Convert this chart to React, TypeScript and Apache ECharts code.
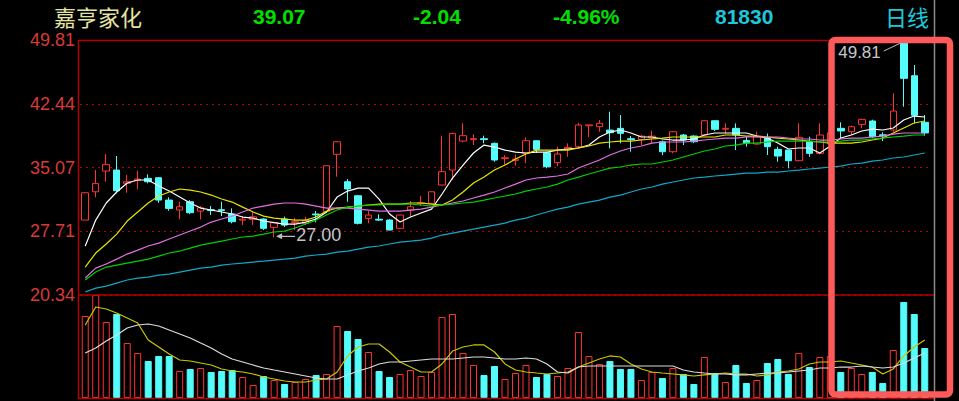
import { useEffect, useRef } from "react";
import * as echarts from "echarts";

const stockName = "嘉亨家化";
const lastClose = "39.07";
const changeText = "-2.04";
const changePctText = "-4.96%";
const lastVolumeText = "81830";
const periodLabel = "日线";

const priceMin = 20.34;
const priceMax = 49.81;
const priceTicks = ["20.34", "27.71", "35.07", "42.44", "49.81"];

const openPrices = [
  29.0, 32.27, 34.67, 34.78, 33.25, 33.59, 33.82, 33.89, 31.31, 30.16,
  31.12, 30.04, 30.2, 30.2, 29.7, 29.0, 29.08, 29.12, 28.16, 29.12,
  28.7, 28.62, 29.7, 29.96, 36.6, 33.43, 31.81, 29.2, 29.1, 29.0,
  28.04, 30.16, 30.9, 30.93, 33.05, 34.78, 38.13, 38.3, 38.4, 37.87,
  36.1, 35.9, 36.71, 38.17, 36.78, 35.63, 37.2, 37.48, 39.9, 39.79,
  39.4, 39.6, 38.4, 38.3, 38.5, 38.05, 36.9, 38.83, 38.71, 38.83,
  40.48, 39.5, 39.6, 38.2, 37.79, 38.45, 37.17, 37.09, 35.86, 38.05,
  36.71, 37.8, 39.6, 39.21, 40.06, 40.45, 38.85, 39.41, 49.61, 45.68,
  40.3,
];
const closePrices = [
  32.16, 33.24, 35.44, 32.39, 33.43, 33.74, 33.43, 31.31, 30.35, 30.54,
  29.85, 30.42, 30.1, 30.1, 28.81, 29.1, 29.38, 28.04, 28.69, 28.42,
  28.8, 28.97, 29.6, 35.28, 38.05, 32.59, 28.62, 29.58, 29.0, 27.85,
  29.58, 30.54, 31.0, 32.27, 34.59, 39.02, 38.75, 38.4, 38.3, 35.94,
  36.2, 36.05, 38.17, 37.17, 35.16, 36.63, 37.4, 39.98, 40.0, 40.18,
  39.1, 39.02, 38.3, 38.7, 38.7, 36.9, 39.21, 38.25, 38.05, 40.48,
  39.49, 39.6, 38.83, 37.9, 38.63, 37.48, 36.4, 35.86, 38.56, 36.71,
  38.83, 39.1, 39.3, 39.79, 40.64, 38.63, 38.75, 41.6, 45.38, 41.11,
  39.07,
];
const lowPrices = [
  29.0, 31.63, 33.43, 32.09, 32.16, 32.55, 33.25, 31.0, 30.08, 29.08,
  29.7, 29.08, 29.58, 29.46, 28.62, 28.42, 28.42, 27.85, 27.0, 28.2,
  27.85, 28.42, 28.74, 29.9, 34.01, 31.12, 28.5, 28.62, 28.89, 27.8,
  28.0, 29.38, 30.65, 30.9, 33.0, 33.63, 37.98, 37.67, 37.87, 35.74,
  35.4, 35.3, 35.56, 36.75, 34.98, 35.24, 36.32, 37.4, 38.56, 39.21,
  37.29, 37.87, 36.9, 37.67, 37.87, 36.52, 36.71, 37.67, 37.9, 38.7,
  39.3, 39.02, 37.09, 37.48, 37.7, 36.52, 35.74, 34.98, 35.8, 36.32,
  36.6, 37.5, 38.45, 38.83, 39.6, 38.5, 38.13, 39.2, 42.1, 40.18,
  38.75,
];
const highPrices = [
  32.2, 34.78, 36.63, 36.4, 34.2, 34.7, 34.28, 33.95, 31.63, 31.12,
  31.31, 30.62, 30.62, 31.12, 30.35, 29.46, 29.97, 29.2, 28.8, 29.4,
  29.23, 29.38, 30.04, 35.3, 38.1, 33.74, 31.9, 30.04, 29.66, 29.1,
  29.6, 31.2, 31.81, 32.3, 38.75, 39.1, 40.18, 38.91, 38.75, 37.95,
  36.5, 36.6, 38.56, 38.2, 36.9, 37.48, 37.87, 40.25, 40.0, 40.56,
  41.52, 41.14, 38.71, 38.83, 39.33, 38.2, 39.3, 38.94, 38.8, 40.5,
  40.5, 40.18, 40.18, 38.63, 39.21, 39.0, 37.48, 37.1, 40.18, 38.63,
  40.18, 39.5, 40.3, 39.9, 40.7, 40.6, 39.14, 43.65, 49.81, 46.92,
  41.14,
];
const volumes = [
  134200, 168600, 124400, 137500, 90000, 73700, 60600, 68800, 68800, 44200,
  47500, 49100, 42600, 44200, 45800, 34400, 21300, 36000, 29500, 22900,
  26200, 31100, 37700, 39300, 117900, 109700, 96600, 75300, 44200, 34400,
  39300, 45800, 36000, 42600, 132600, 137500, 73700, 54000, 37700, 52400,
  31100, 40900, 54000, 34400, 39300, 36000, 49100, 108000, 68800, 55700,
  60600, 47500, 47500, 29500, 42600, 32700, 49100, 39300, 22900, 67100,
  40900, 26200, 54000, 24600, 29500, 57300, 63800, 39300, 73700, 50700,
  67100, 68800, 42600, 49100, 39300, 42600, 24600, 78600, 157200, 137500,
  81830,
];
const ma5 = [
  26.0, 29.0, 30.97, 32.24, 33.28, 33.63, 33.63, 32.93, 32.35, 31.66,
  30.97, 30.39, 30.16, 29.93, 29.7, 29.35, 29.23, 28.89, 28.71, 28.54,
  28.54, 28.77, 29.12, 29.93, 31.66, 32.35, 32.7, 32.7, 31.43, 29.7,
  28.77, 29.35, 29.81, 30.27, 32.01, 33.86, 35.36, 36.75, 37.67, 37.44,
  37.09, 36.86, 36.75, 36.86, 36.86, 37.09, 37.21, 37.33, 37.67, 38.6,
  39.17, 39.41, 39.06, 38.6, 38.6, 38.37, 38.25, 38.25, 38.37, 38.83,
  39.06, 39.06, 39.06, 39.06, 38.71, 38.48, 37.9, 37.21, 37.33, 37.33,
  36.75, 37.56, 38.48, 38.83, 39.29, 39.52, 39.41, 39.64, 40.56, 41.02,
  40.91,
];
const ma10 = [
  23.57, 25.19, 26.23, 27.38, 28.89, 29.93, 30.97, 31.78, 32.24, 32.59,
  32.47, 32.24, 31.89, 31.43, 31.08, 30.5, 29.93, 29.46, 29.23, 29.12,
  29.0, 29.0, 29.35, 30.04, 30.39, 30.5, 30.62, 30.74, 30.85, 30.85,
  30.85, 30.97, 30.97, 30.85, 30.74, 31.31, 32.24, 33.28, 33.97, 34.78,
  35.36, 36.05, 36.63, 37.09, 37.09, 37.09, 37.09, 37.33, 37.56, 37.9,
  38.02, 38.13, 38.13, 38.25, 38.37, 38.48, 38.6, 38.6, 38.6, 38.6,
  38.6, 38.83, 38.83, 38.71, 38.71, 38.6, 38.48, 38.37, 38.25, 38.13,
  38.02, 37.9, 37.9, 37.9, 38.02, 38.25, 38.48, 39.06, 39.64, 40.22,
  40.45,
];
const ma20 = [
  22.3, 23.45, 23.92, 24.49, 25.07, 25.53, 26.0, 26.34, 26.81, 27.27,
  27.73, 28.19, 28.77, 29.12, 29.46, 29.93, 30.39, 30.62, 30.85, 30.97,
  30.97, 30.85, 30.62, 30.39, 30.39, 30.39, 30.27, 30.16, 30.04, 30.04,
  30.04, 30.16, 30.27, 30.5, 30.74, 30.97, 31.2, 31.55, 31.89, 32.24,
  32.7, 33.16, 33.63, 33.86, 33.97, 34.09, 34.32, 35.01, 35.48, 35.94,
  36.52, 36.98, 37.33, 37.56, 37.9, 38.02, 38.02, 38.02, 38.13, 38.25,
  38.37, 38.48, 38.48, 38.6, 38.6, 38.6, 38.6, 38.48, 38.37, 38.37,
  38.25, 38.25, 38.37, 38.48, 38.48, 38.6, 38.71, 38.94, 39.06, 39.06,
  39.06,
];
const ma30 = [
  22.07, 22.99, 23.57, 23.8, 24.03, 24.26, 24.49, 24.84, 25.19, 25.42,
  25.76, 26.11, 26.34, 26.57, 26.81, 27.04, 27.15, 27.38, 27.62, 27.73,
  28.08, 28.54, 29.0, 29.58, 30.16, 30.5, 30.62, 30.74, 30.74, 30.85,
  30.85, 30.85, 30.74, 30.62, 30.74, 30.85, 30.97, 31.08, 31.31, 31.55,
  31.78, 32.01, 32.35, 32.59, 32.82, 33.16, 33.63, 33.97, 34.32, 34.67,
  35.01, 35.13, 35.36, 35.48, 35.48, 35.71, 35.94, 36.29, 36.63, 36.98,
  37.21, 37.56, 37.67, 37.9, 37.9, 38.02, 38.13, 38.13, 38.13, 38.13,
  38.02, 38.02, 38.13, 38.25, 38.25, 38.37, 38.48, 38.6, 38.71, 38.83,
  38.83,
];
const ma60 = [
  20.68, 21.14, 21.37, 21.72, 22.07, 22.3, 22.41, 22.64, 22.76, 22.99,
  23.22, 23.45, 23.57, 23.8, 23.92, 24.03, 24.15, 24.26, 24.38, 24.49,
  24.61, 24.84, 24.96, 25.07, 25.3, 25.42, 25.65, 25.88, 26.0, 26.23,
  26.46, 26.57, 26.69, 26.92, 27.27, 27.5, 27.73, 27.96, 28.19, 28.42,
  28.65, 29.0, 29.23, 29.58, 29.93, 30.27, 30.5, 30.85, 31.08, 31.31,
  31.66, 31.89, 32.24, 32.59, 32.82, 33.16, 33.4, 33.63, 33.86, 33.97,
  34.09, 34.2, 34.32, 34.43, 34.43, 34.55, 34.55, 34.67, 34.78, 34.9,
  35.01, 35.13, 35.24, 35.48, 35.59, 35.82, 35.94, 36.17, 36.29, 36.52,
  36.75,
];
const volMa5 = [
  119500, 149000, 145700, 139100, 131000, 122800, 94900, 83500, 72000, 62200,
  60600, 57300, 54000, 47500, 44200, 42600, 39300, 34400, 31100, 27800,
  26200, 26200, 29500, 31100, 42600, 68800, 83500, 88400, 88400, 75300,
  58900, 50700, 42600, 42600, 55700, 76900, 83500, 86800, 86800, 75300,
  55700, 45800, 42600, 40900, 39300, 40900, 42600, 50700, 57300, 63800,
  68800, 67100, 55700, 47500, 42600, 40900, 39300, 37700, 36000, 37700,
  39300, 40900, 39300, 39300, 36000, 37700, 42600, 44200, 47500, 55700,
  58900, 58900, 60600, 57300, 54000, 50700, 39300, 47500, 68800, 83500,
  94900,
];
const volMa10 = [
  73700, 81900, 93300, 103100, 114600, 119500, 121100, 117900, 111300, 104800,
  98200, 90000, 81900, 72000, 63800, 58900, 54000, 49100, 45800, 42600,
  39300, 36000, 32700, 31100, 31100, 37700, 44200, 49100, 55700, 58900,
  58900, 60600, 62200, 63800, 63800, 63800, 65500, 67100, 67100, 65500,
  63800, 63800, 65500, 63800, 55700, 42600, 40900, 50700, 52400, 52400,
  52400, 52400, 52400, 52400, 52400, 52400, 52400, 45800, 42600, 40900,
  39300, 39300, 37700, 37700, 39300, 40900, 40900, 42600, 44200, 45800,
  49100, 49100, 50700, 50700, 52400, 50700, 49100, 50700, 57300, 65500,
  73700,
];

const days = openPrices.map((_, i) => String(i + 1));

const UP = "#ff3232";
const DOWN = "#54fcfc";
const FRAME = "#b40000";
const NUM_FONT = '"Liberation Sans", Arial, sans-serif';
const CJK_FONT = '"Noto Sans CJK SC", sans-serif';

export default function App() {
  const ref = useRef<HTMLDivElement>(null);

  useEffect(() => {
    document.body.style.margin = "0";
    document.body.style.background = "#000";
    const chart = echarts.init(ref.current as HTMLDivElement, null, { renderer: "svg" });
    const step = (priceMax - priceMin) / 4;

    const candleData = openPrices.map((o, i) => [o, closePrices[i], lowPrices[i], highPrices[i]]);
    const volData = volumes.map((v, i) => {
      const up = closePrices[i] >= openPrices[i];
      return {
        value: v,
        itemStyle: up
          ? { color: "#000000", borderColor: UP, borderWidth: 1 }
          : { color: DOWN, borderColor: DOWN, borderWidth: 1 },
      };
    });

    const line = (name: string, data: number[], color: string, idx: number) => ({
      type: "line",
      name,
      data,
      xAxisIndex: idx,
      yAxisIndex: idx,
      symbol: "none",
      silent: true,
      lineStyle: { color, width: 1.2 },
      z: 3,
    });

    const hiddenCat = (gridIndex: number) => ({
      type: "category",
      gridIndex,
      data: days,
      boundaryGap: true,
      axisLine: { show: false },
      axisTick: { show: false },
      axisLabel: { show: false },
      splitLine: { show: false },
    });

    chart.setOption({
      animation: false,
      backgroundColor: "#000000",
      grid: [
        { left: 80, top: 40, width: 850, height: 255 },
        { left: 80, top: 295, width: 850, height: 103 },
      ],
      xAxis: [hiddenCat(0), hiddenCat(1)],
      yAxis: [
        {
          type: "value",
          gridIndex: 0,
          min: priceMin,
          max: priceMax,
          interval: step,
          axisLine: { show: false },
          axisTick: { show: false },
          axisLabel: {
            show: true,
            color: "#d83a3a",
            fontSize: 18,
            fontFamily: NUM_FONT,
            margin: 5,
            showMinLabel: true,
            showMaxLabel: true,
            formatter: (v: number) => priceTicks[Math.round((v - priceMin) / step)] ?? "",
          },
          splitLine: { show: true, lineStyle: { color: FRAME, type: [2, 4], width: 1 } },
        },
        {
          type: "value",
          gridIndex: 1,
          min: 0,
          max: "dataMax",
          axisLine: { show: false },
          axisTick: { show: false },
          axisLabel: { show: false },
          splitLine: { show: false },
        },
      ],
      series: [
        {
          type: "candlestick",
          name: "K",
          data: candleData,
          xAxisIndex: 0,
          yAxisIndex: 0,
          barWidth: 7,
          silent: true,
          itemStyle: {
            color: "#000000",
            color0: DOWN,
            borderColor: UP,
            borderColor0: DOWN,
            borderWidth: 1,
          },
        },
        line("MA5", ma5, "#ffffff", 0),
        line("MA10", ma10, "#e6e600", 0),
        line("MA20", ma20, "#e070e0", 0),
        line("MA30", ma30, "#00d000", 0),
        line("MA60", ma60, "#10a8c8", 0),
        {
          type: "bar",
          name: "VOL",
          data: volData,
          xAxisIndex: 1,
          yAxisIndex: 1,
          barWidth: 7,
          silent: true,
        },
        line("VMA5", volMa5, "#c8c800", 1),
        line("VMA10", volMa10, "#dcdcdc", 1),
      ],
    });

    const hiIdx = highPrices.indexOf(Math.max(...highPrices));
    const loIdx = lowPrices.indexOf(Math.min(...lowPrices));
    const hi = chart.convertToPixel({ seriesIndex: 0 }, [hiIdx, highPrices[hiIdx]]) as number[];
    const lo = chart.convertToPixel({ seriesIndex: 0 }, [loIdx, lowPrices[loIdx]]) as number[];

    const hLine = (y: number, x1: number, x2: number, stroke: string, w = 1.5) => ({
      type: "line",
      silent: true,
      shape: { x1, y1: y, x2, y2: y },
      style: { stroke, lineWidth: w },
      z: 50,
    });
    const vLine = (x: number, y1: number, y2: number, stroke: string, w = 1.5) => ({
      type: "line",
      silent: true,
      shape: { x1: x, y1, x2: x, y2 },
      style: { stroke, lineWidth: w },
      z: 50,
    });
    const headText = (
      text: string,
      x: number,
      fill: string,
      fontSize: number,
      fontFamily: string,
      fontWeight: string = "normal"
    ) => ({
      type: "text",
      silent: true,
      x,
      y: 16,
      style: { text, fill, fontSize, fontFamily, fontWeight, verticalAlign: "middle", align: "left" },
      z: 50,
    });

    const tipX = lo[0] + 2;
    const tipY = lo[1] - 1;

    chart.setOption({
      graphic: [
        hLine(40.5, 78, 934, FRAME),
        hLine(295, 78, 934, FRAME),
        hLine(398.5, 78, 934, FRAME),
        vLine(78.5, 40, 399, FRAME),
        vLine(934.5, 0, 401, "#8a8a8a"),
        headText(stockName, 54, "#e4e4a4", 22, CJK_FONT),
        headText(lastClose, 253, "#00e000", 21, NUM_FONT, "bold"),
        headText(changeText, 413, "#00e000", 21, NUM_FONT, "bold"),
        headText(changePctText, 553, "#00e000", 21, NUM_FONT, "bold"),
        headText(lastVolumeText, 715, "#1ec8dc", 21, NUM_FONT, "bold"),
        headText(periodLabel, 885, "#1ec8dc", 22, CJK_FONT),
        {
          type: "text",
          silent: true,
          x: hi[0] - 23,
          y: hi[1] + 12,
          style: {
            text: highPrices[hiIdx].toFixed(2),
            fill: "#c4c8ce",
            fontSize: 17,
            fontFamily: NUM_FONT,
            align: "right",
            verticalAlign: "middle",
          },
          z: 60,
        },
        {
          type: "line",
          silent: true,
          shape: { x1: hi[0] - 20, y1: hi[1] + 11, x2: hi[0] - 3, y2: hi[1] + 3 },
          style: { stroke: "#bcbcbc", lineWidth: 1 },
          z: 60,
        },
        {
          type: "line",
          silent: true,
          shape: { x1: tipX + 3, y1: tipY, x2: tipX + 19, y2: tipY },
          style: { stroke: "#c0c0c0", lineWidth: 1.2 },
          z: 60,
        },
        {
          type: "polygon",
          silent: true,
          shape: { points: [[tipX, tipY], [tipX + 6, tipY - 3], [tipX + 6, tipY + 3]] },
          style: { fill: "#c0c0c0" },
          z: 60,
        },
        {
          type: "text",
          silent: true,
          x: tipX + 20,
          y: tipY - 1,
          style: {
            text: lowPrices[loIdx].toFixed(2),
            fill: "#c0c6ce",
            fontSize: 18,
            fontFamily: NUM_FONT,
            align: "left",
            verticalAlign: "middle",
          },
          z: 60,
        },
        {
          type: "rect",
          silent: true,
          shape: { x: 831.5, y: 40, width: 118.5, height: 354.5, r: 4 },
          style: { fill: "none", stroke: "#ff5a5a", lineWidth: 6.5 },
          z: 100,
        },
      ],
    });

    return () => {
      chart.dispose();
    };
  }, []);

  return <div ref={ref} style={{ width: 959, height: 401, background: "#000" }} />;
}
